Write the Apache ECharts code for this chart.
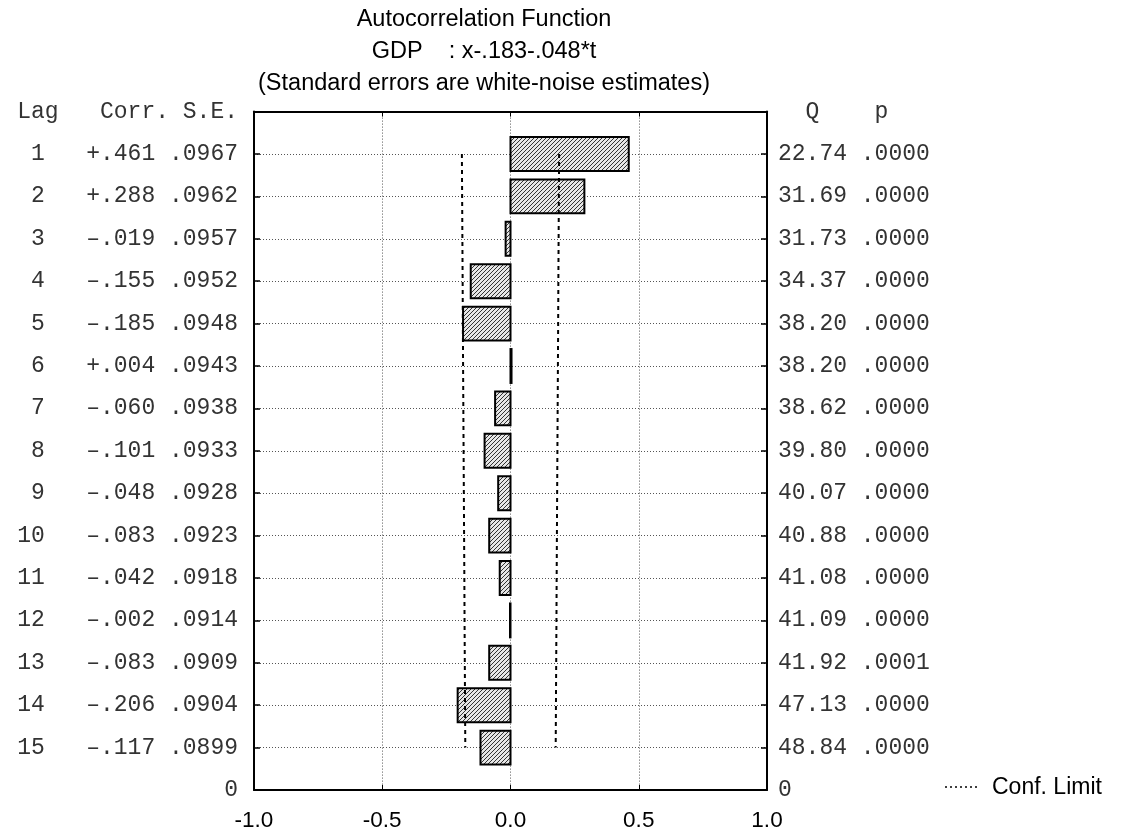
<!DOCTYPE html>
<html>
<head>
<meta charset="utf-8">
<title>Autocorrelation Function</title>
<script src="https://cdn.jsdelivr.net/npm/echarts@6/dist/echarts.min.js"></script>
<style>
  html, body { margin: 0; padding: 0; background: #fff; }
  #chart { width: 1125px; height: 830px; }
</style>
</head>
<body>
<div id="chart"></div>
<script>
// Autocorrelation of detrended GDP, lags 1..15
const lags = [1, 2, 3, 4, 5, 6, 7, 8, 9, 10, 11, 12, 13, 14, 15];
const corr = [0.461, 0.288, -0.019, -0.155, -0.185, 0.004, -0.060, -0.101,
              -0.048, -0.083, -0.042, -0.002, -0.083, -0.206, -0.117];
const stdErr = [0.0967, 0.0962, 0.0957, 0.0952, 0.0948, 0.0943, 0.0938, 0.0933,
                0.0928, 0.0923, 0.0918, 0.0914, 0.0909, 0.0904, 0.0899];
const qStat = [22.74, 31.69, 31.73, 34.37, 38.20, 38.20, 38.62, 39.80,
               40.07, 40.88, 41.08, 41.09, 41.92, 47.13, 48.84];
const pValue = [0.0000, 0.0000, 0.0000, 0.0000, 0.0000, 0.0000, 0.0000, 0.0000,
                0.0000, 0.0000, 0.0000, 0.0000, 0.0001, 0.0000, 0.0000];
const titleLines = [
  'Autocorrelation Function',
  'GDP    : x-.183-.048*t',
  '(Standard errors are white-noise estimates)'
];
const leftHeader = 'Lag   Corr. S.E.';
const rightHeader = '  Q    p';
const legendName = 'Conf. Limit';
const zCrit = 1.96;

const MONO = '"Liberation Mono", "Courier New", monospace';
const SANS = '"Liberation Sans", Arial, Helvetica, sans-serif';

function frac(v, d) { return Math.abs(v).toFixed(d).replace(/^0/, ''); }
function corrText(v) { return (v >= 0 ? '+' : '\u2013') + frac(v, 3); }
function pad2(n) { return (n < 10 ? ' ' : '') + n; }

// diagonal hatch tile for the bars
function hatchTile() {
  const n = 4;
  const c = document.createElement('canvas');
  c.width = n; c.height = n;
  const g = c.getContext('2d');
  g.fillStyle = '#e6e6e6';
  g.fillRect(0, 0, n, n);
  g.fillStyle = '#333';
  for (let i = 0; i < n; i++) g.fillRect(i, n - 1 - i, 1, 1);
  return c;
}
const hatch = { image: hatchTile(), repeat: 'repeat' };

const barData = lags.map((l, i) => [corr[i], l]);
const limLeft = lags.map((l, i) => [-zCrit * stdErr[i], l]);
const limRight = lags.map((l, i) => [zCrit * stdErr[i], l]);

const gridLine = { show: true, lineStyle: { color: '#555', width: 1, type: [1, 2] } };
const frameLine = { show: true, onZero: false, lineStyle: { color: '#000', width: 2 } };
const limStyle = { color: '#000', width: 2, type: [4, 4] };

const chart = echarts.init(document.getElementById('chart'), null, { renderer: 'canvas' });
chart.setOption({
  animation: false,
  backgroundColor: '#fff',
  graphic: [
    ...titleLines.map((t, i) => ({
      type: 'text',
      x: 484,
      y: [20, 52, 84][i],
      style: {
        text: t, fill: '#000', font: '23.5px ' + SANS,
        textAlign: 'center', textVerticalAlign: 'middle'
      }
    })),
    // legend entry for the confidence limits
    {
      type: 'line',
      shape: { x1: 945, y1: 787, x2: 979, y2: 787 },
      style: { stroke: '#000', lineWidth: 1.5, lineDash: [2, 3] }
    },
    {
      type: 'text',
      x: 992, y: 788,
      style: {
        text: legendName, fill: '#000', font: '23px ' + SANS,
        textAlign: 'left', textVerticalAlign: 'middle'
      }
    }
  ],
  grid: {
    left: 254, right: 358, top: 111.6, bottom: 40,
    show: false,
    containLabel: false, outerBoundsMode: 'none'
  },
  xAxis: [
    {
      type: 'value', position: 'bottom', min: -1, max: 1, interval: 0.5,
      axisLine: frameLine,
      axisTick: { show: true, inside: true, length: 5, lineStyle: { color: '#000', width: 1 } },
      splitLine: gridLine,
      axisLabel: {
        margin: 19, fontFamily: SANS, fontSize: 22.5, color: '#000',
        formatter: v => v.toFixed(1)
      }
    },
    {
      type: 'value', position: 'top', min: -1, max: 1, interval: 0.5,
      axisLine: frameLine,
      axisTick: { show: true, inside: true, length: 5, lineStyle: { color: '#000', width: 1 } },
      splitLine: { show: false },
      axisLabel: { show: false }
    }
  ],
  yAxis: [
    {
      type: 'value', position: 'left', min: 0, max: 16, interval: 1, inverse: true,
      axisLine: frameLine,
      axisTick: { show: true, inside: true, length: 6, lineStyle: { color: '#000', width: 1.5 } },
      splitLine: gridLine,
      axisLabel: {
        margin: 16, fontFamily: MONO, fontSize: 23, color: '#333',
        formatter: v => {
          if (v === 0) return leftHeader;
          if (v === 16) return '0';
          const i = v - 1;
          return pad2(lags[i]) + '   ' + corrText(corr[i]) + ' ' + frac(stdErr[i], 4);
        }
      }
    },
    {
      type: 'value', position: 'right', min: 0, max: 16, interval: 1, inverse: true,
      axisLine: frameLine,
      axisTick: { show: true, inside: true, length: 6, lineStyle: { color: '#000', width: 1.5 } },
      splitLine: { show: false },
      axisLabel: {
        margin: 11, fontFamily: MONO, fontSize: 23, color: '#333',
        formatter: v => {
          if (v === 0) return rightHeader;
          if (v === 16) return '0';
          const i = v - 1;
          return qStat[i].toFixed(2) + ' ' + frac(pValue[i], 4);
        }
      }
    }
  ],
  series: [
    {
      name: 'Corr.',
      type: 'custom',
      xAxisIndex: 0, yAxisIndex: 0,
      z: 3,
      data: barData,
      renderItem: (params, api) => {
        const v = api.value(0), lag = api.value(1);
        const a = api.coord([0, lag]);
        const b = api.coord([v, lag]);
        const h = api.size([0, 1])[1] * 0.8;
        return {
          type: 'rect',
          shape: { x: Math.min(a[0], b[0]), y: a[1] - h / 2, width: Math.abs(b[0] - a[0]), height: h },
          style: { fill: hatch, stroke: '#000', lineWidth: 2 }
        };
      }
    },
    {
      name: legendName, type: 'line', xAxisIndex: 0, yAxisIndex: 0,
      data: limLeft, symbol: 'none', z: 5, lineStyle: limStyle
    },
    {
      name: legendName, type: 'line', xAxisIndex: 0, yAxisIndex: 0,
      data: limRight, symbol: 'none', z: 5, lineStyle: limStyle
    }
  ]
});
</script>
</body>
</html>
